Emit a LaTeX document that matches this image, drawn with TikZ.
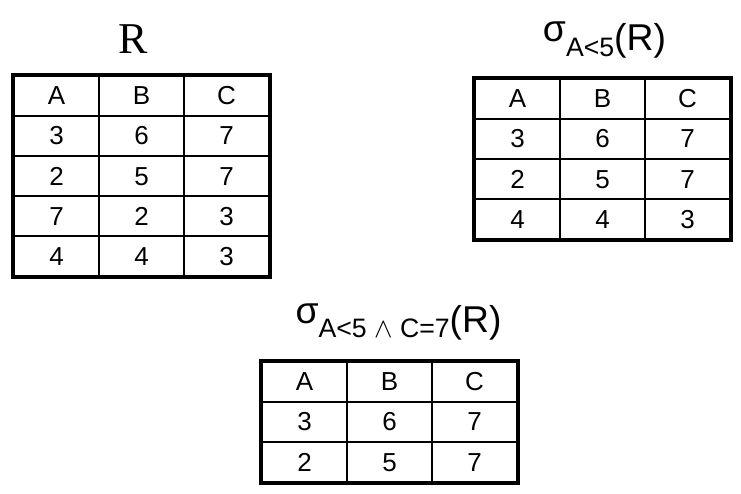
\documentclass[tikz,border=0pt]{standalone}
\usepackage{fontspec}
\setmainfont{Liberation Sans}
\newfontfamily\rmtitle{Liberation Serif}
\usetikzlibrary{matrix,positioning}

\newcommand{\seltitle}[1]{\raisebox{6.7pt}{σ}\raisebox{-4.2pt}{\fontsize{20}{22}\selectfont #1}(R)}

\begin{document}
\begin{tikzpicture}
[x=0.75pt, y=-0.75pt,
tab/.style={matrix of nodes, draw, line width=2.4pt, inner sep=0pt, outer sep=0pt, anchor=north west,
	column sep=-1.5pt, row sep=-1.5pt,
	nodes={draw, line width=1.5pt, inner sep=0pt, outer sep=0pt, minimum width=63.75pt, minimum height=30pt,
		font=\fontsize{19.5}{21}\selectfont}},
title/.style={inner sep=0pt, anchor=base}]
\useasboundingbox (0,0) rectangle (741,493);

% relation R
\matrix (R) [tab] at (13,75) {
	A & B & C \\
	3 & 6 & 7 \\
	2 & 5 & 7 \\
	7 & 2 & 3 \\
	4 & 4 & 3 \\
};
\node (Rname) [title, font=\rmtitle\fontsize{33}{36}\selectfont] at ([xshift=-6pt, yshift=16.5pt]R.north) {R};

% selection A<5
\matrix (S1) [tab] at (474,78) {
	A & B & C \\
	3 & 6 & 7 \\
	2 & 5 & 7 \\
	4 & 4 & 3 \\
};
\node (S1name) [title, font=\fontsize{28}{30}\selectfont] at ([xshift=1.5pt, yshift=20.5pt]S1.north) {\seltitle{A<5}};

% selection A<5 and C=7
\matrix (S2) [tab] at (261,361) {
	A & B & C \\
	3 & 6 & 7 \\
	2 & 5 & 7 \\
};
\node (S2name) [title, font=\fontsize{28}{30}\selectfont] at ([xshift=6.75pt, yshift=21.75pt]S2.north) {\seltitle{A<5 $\wedge$ C=7}};
\end{tikzpicture}
\end{document}
